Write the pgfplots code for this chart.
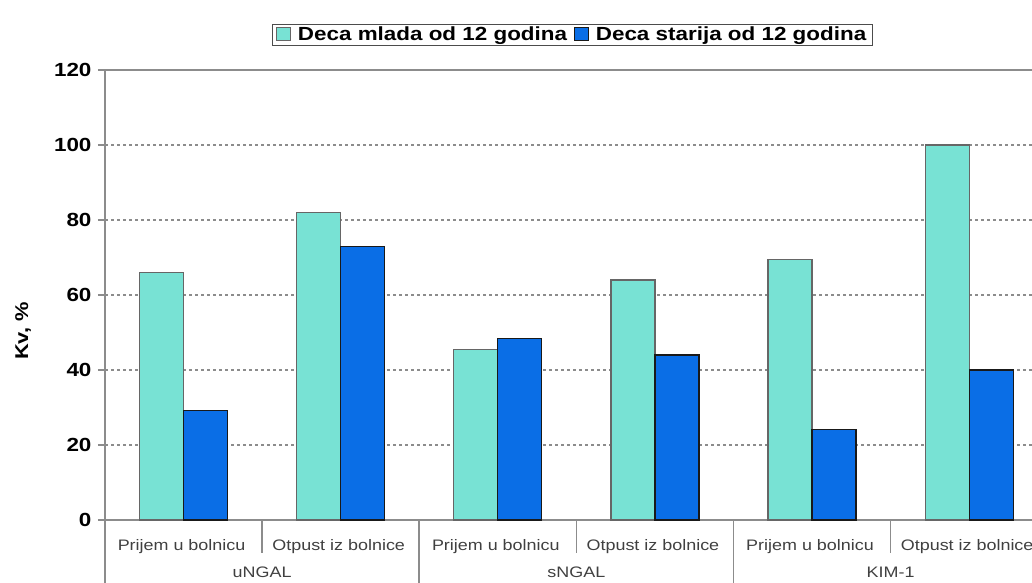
\documentclass[border=0pt]{standalone}
\usepackage{pgfplots}
\pgfplotsset{compat=1.18}
\usepackage{fontspec}
\setmainfont{Liberation Sans}[FakeStretch=1.18]
\definecolor{tirkiz}{HTML}{78E2D4}
\definecolor{plava}{HTML}{0A6EE6}
\definecolor{osa}{HTML}{8C8C8C}
\begin{document}
\begin{tikzpicture}
\useasboundingbox (0,0) rectangle (1032pt,582pt);
\begin{axis}[
  at={(105pt,62pt)}, anchor=south west,
  scale only axis, width=927pt, height=450pt,
  clip=false,
  ymin=0, ymax=120, ytick={0,20,...,120},
  xmin=-0.5, xmax=5.4,
  xtick={0,...,5},
  xticklabels={Prijem u bolnicu, Otpust iz bolnice, Prijem u bolnicu,
               Otpust iz bolnice, Prijem u bolnicu, Otpust iz bolnice},
  axis x line*=bottom, axis y line*=left,
  axis line style={osa, line width=1.5pt, -},
  x tick style={draw=none},
  y tick style={osa, line width=1.2pt},
  tick align=outside, major tick length=7pt,
  x tick label style={font=\fontsize{15.2}{19}\selectfont, text=black!75,
                      anchor=center, yshift=-20pt, xshift=-2pt},
  y tick label style={font=\bfseries\fontsize{19}{22}\selectfont, xshift=-3pt},
  /pgf/number format/assume math mode=true,
  ymajorgrids, grid style={osa, dash pattern=on 2.5pt off 3.5pt, line width=1.3pt},
  ylabel={Kv, \%},
  every axis y label/.style={at={(rel axis cs:0,0.42)}, xshift=-82pt,
                             rotate=90, anchor=center,
                             font=\bfseries\fontsize{18.5}{22}\selectfont},
  ybar, bar width=44pt,
  legend columns=2,
  legend style={at={(0.504,1)}, anchor=south, yshift=24pt,
                draw=black!70, line width=1pt, inner xsep=4pt, inner ysep=1pt,
                font=\bfseries\fontsize{19}{22}\selectfont,
                /tikz/column sep=5pt},
  legend image code/.code={\draw[#1, line width=0.8pt] (0pt,-6pt) rectangle (14pt,7pt);},
]
\addplot[fill=tirkiz, draw=black!60, line width=1.2pt, bar shift=-22pt]
  coordinates {(0,66) (1,82) (2,45.5) (3,64) (4,69.5) (5,100)};
\addplot[fill=plava, draw=black!90, line width=1.2pt, bar shift=22pt]
  coordinates {(0,29.2) (1,73) (2,48.4) (3,44) (4,24.2) (5,40)};
\legend{Deca mlada od 12 godina, Deca starija od 12 godina}
% top border of plot area
\draw[osa, line width=1.5pt] (rel axis cs:0,1) -- (rel axis cs:1,1);
% category separators
\pgfplotsinvokeforeach{0.5,2.5,4.5}{
  \draw[osa, line width=1.5pt] (axis cs:#1,0) -- ([yshift=-33pt]axis cs:#1,0);
}
\pgfplotsinvokeforeach{-0.5,1.5,3.5,5.5}{
  \draw[osa, line width=1.5pt] (axis cs:#1,0) -- ([yshift=-70pt]axis cs:#1,0);
}
% group labels
\node[font=\fontsize{15.2}{19}\selectfont, text=black!75] at ([yshift=-52pt]axis cs:0.5,0) {uNGAL};
\node[font=\fontsize{15.2}{19}\selectfont, text=black!75] at ([yshift=-52pt]axis cs:2.5,0) {sNGAL};
\node[font=\fontsize{15.2}{19}\selectfont, text=black!75] at ([yshift=-52pt]axis cs:4.5,0) {KIM-1};
\end{axis}
\end{tikzpicture}
\end{document}
